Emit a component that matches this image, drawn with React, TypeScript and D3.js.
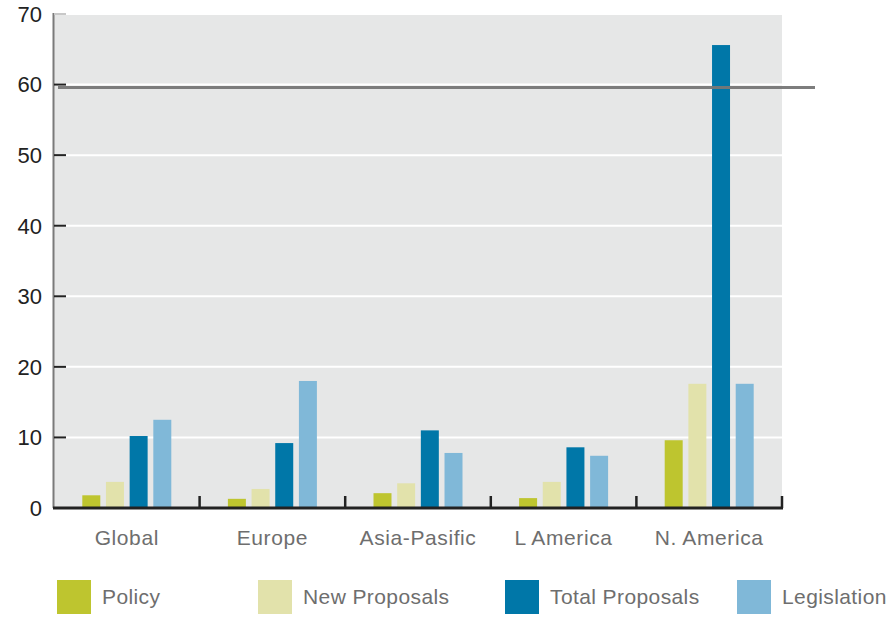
import * as d3 from 'd3';

const categories = ['Global', 'Europe', 'Asia-Pasific', 'L America', 'N. America'];
const seriesNames = ['Policy', 'New Proposals', 'Total Proposals', 'Legislation'];
const policy = [1.8, 1.3, 2.1, 1.4, 9.6];
const newProposals = [3.7, 2.7, 3.5, 3.7, 17.6];
const totalProposals = [10.2, 9.2, 11.0, 8.6, 65.6];
const legislation = [12.5, 18.0, 7.8, 7.4, 17.6];
const yTicks = [0, 10, 20, 30, 40, 50, 60, 70];
const referenceValue = 59.6;

const colors = ['#bec52f', '#e2e2ab', '#0077a8', '#80b8d8'];
const seriesValues = [policy, newProposals, totalProposals, legislation];

const W = 895;
const H = 617;
const left = 54;
const right = 782;
const top = 14;
const bottom = 508;
const font = '"Liberation Sans", Arial, sans-serif';
const textColor = '#6e6e6e';

export default function App() {
  const x = d3.scaleBand<string>().domain(categories).range([left, right]);
  const inner = d3.scaleBand<string>().domain(seriesNames).range([-44.5, 44.5]).paddingInner(0.24);
  const y = d3.scaleLinear().domain([0, 70]).range([bottom, top]);

  // legend positions (left of each swatch)
  const legendX = d3.scaleOrdinal<string, number>().domain(seriesNames).range([57, 258, 505, 737]);

  return (
    <svg width={W} height={H} style={{ position: 'absolute', left: 0, top: 0, background: '#fff' }}>
      <rect x={left - 1} y={top} width={right - left + 1} height={bottom - top} fill="#e6e7e7" />
      {yTicks.slice(1).map((t) => (
        <line key={t} x1={left} x2={right} y1={y(t)} y2={y(t)} stroke="#fff" strokeWidth={2} />
      ))}
      {categories.map((c, i) =>
        seriesNames.map((s, j) => {
          const v = seriesValues[j][i];
          return (
            <rect
              key={c + s}
              x={(x(c) ?? 0) + x.bandwidth() / 2 + (inner(s) ?? 0)}
              y={y(v)}
              width={inner.bandwidth()}
              height={y(0) - y(v)}
              fill={colors[j]}
            />
          );
        })
      )}
      {/* y axis */}
      <line x1={left - 0.5} x2={left - 0.5} y1={top - 1} y2={bottom} stroke="#7a7a7a" strokeWidth={2} />
      {yTicks.map((t) => (
        <g key={t}>
          <line
            x1={left}
            x2={left + 12}
            y1={y(t)}
            y2={y(t)}
            stroke={t === 70 ? '#c8c8c8' : '#222'}
            strokeWidth={2}
          />
          <text
            x={42}
            y={y(t)}
            dy="0.36em"
            textAnchor="end"
            fontFamily={font}
            fontSize={22}
            fill="#222"
          >
            {t}
          </text>
        </g>
      ))}
      {/* reference line */}
      <line x1={58} x2={815} y1={y(referenceValue)} y2={y(referenceValue)} stroke="#777" strokeWidth={3} opacity={0.95} />
      {/* x axis */}
      <line x1={left - 1} x2={right + 1} y1={bottom} y2={bottom} stroke="#222" strokeWidth={3} />
      {categories.map((c) => {
        const xe = (x(c) ?? 0) + x.bandwidth();
        return <line key={c} x1={xe} x2={xe} y1={bottom} y2={bottom - 12} stroke="#222" strokeWidth={2.5} />;
      })}
      {categories.map((c) => (
        <text
          key={c}
          x={(x(c) ?? 0) + x.bandwidth() / 2}
          y={545}
          textAnchor="middle"
          fontFamily={font}
          fontSize={21}
          letterSpacing={0.6}
          fill={textColor}
        >
          {c}
        </text>
      ))}
      {/* legend */}
      {seriesNames.map((s, j) => (
        <g key={s}>
          <rect x={legendX(s)} y={580} width={34} height={34} fill={colors[j]} />
          <text x={legendX(s) + 45} y={604} fontFamily={font} fontSize={21} letterSpacing={0.4} fill={textColor}>
            {s}
          </text>
        </g>
      ))}
    </svg>
  );
}
